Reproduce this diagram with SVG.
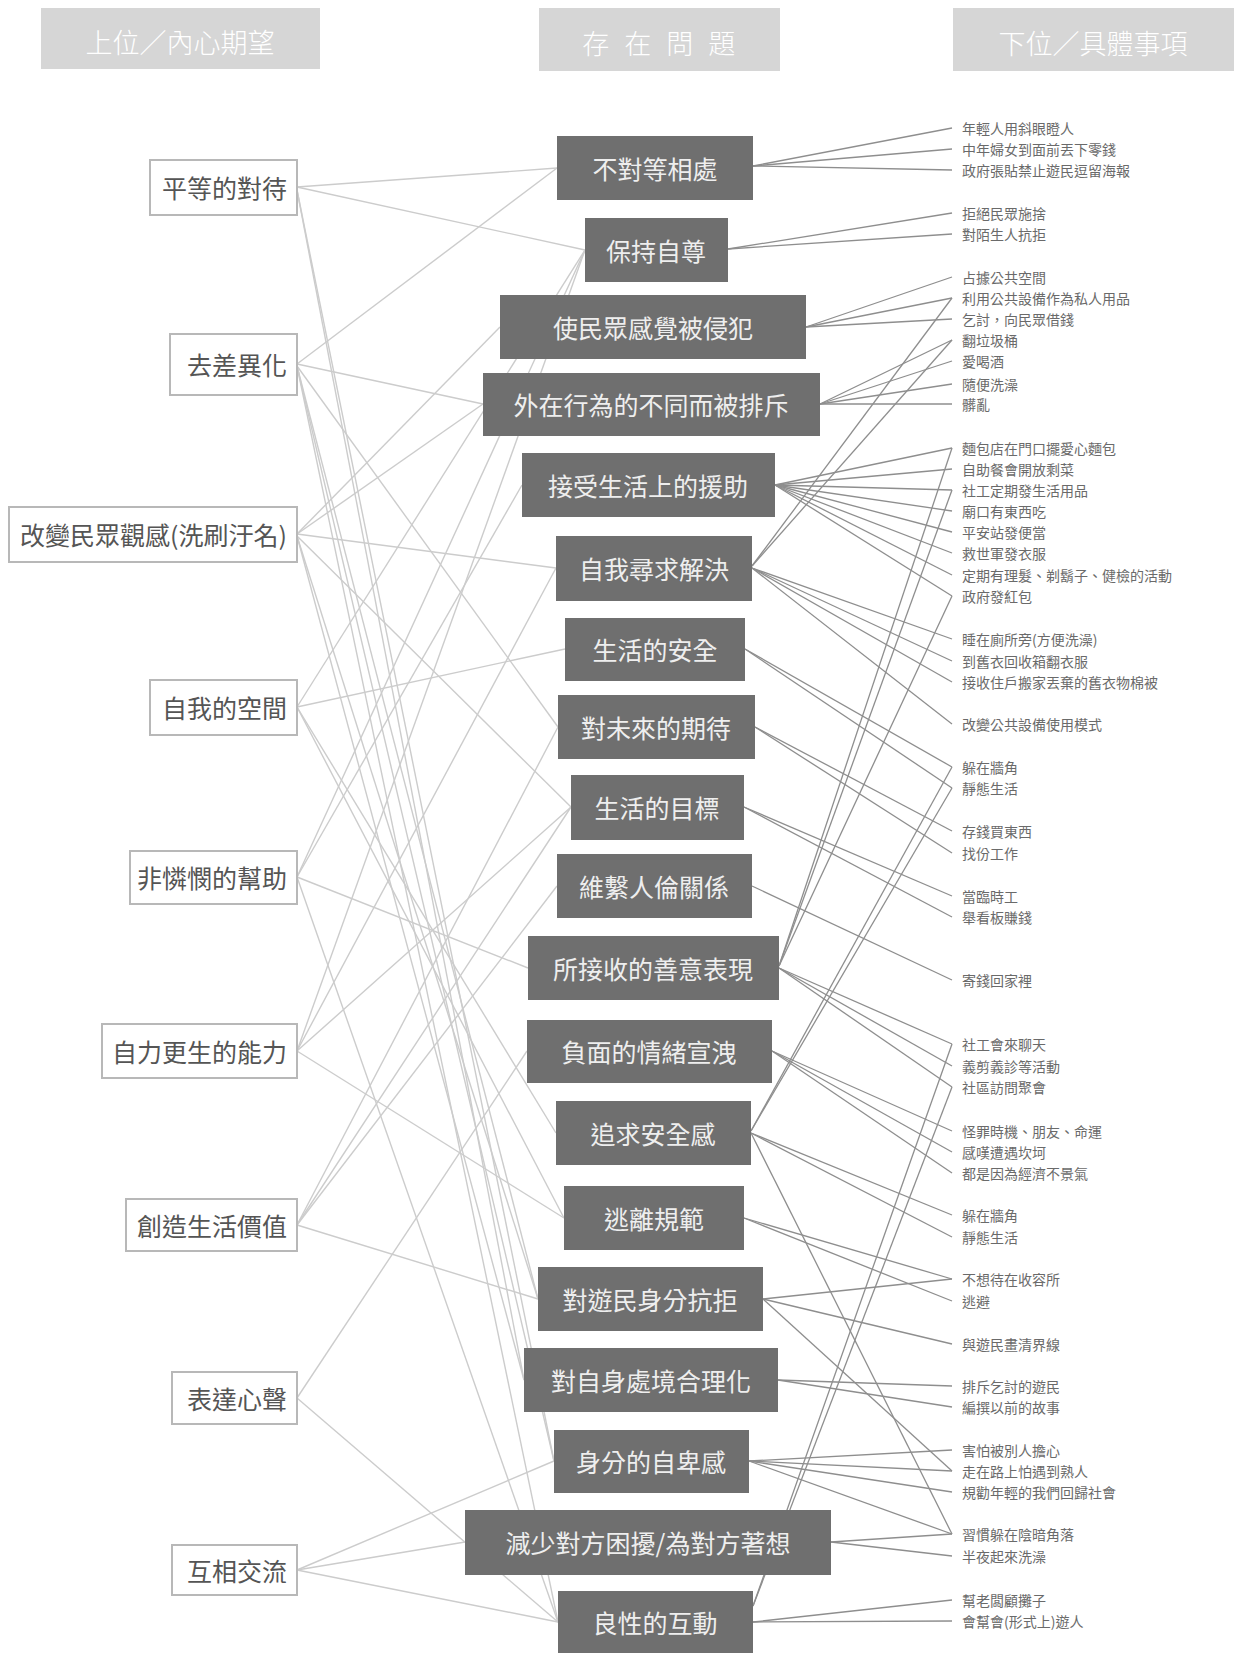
<svg xmlns="http://www.w3.org/2000/svg" width="1234" height="1653" viewBox="0 0 1234 1653">
<style>
text{font-family:"Noto Sans CJK TC","Noto Sans CJK SC",sans-serif;dominant-baseline:central}
.hd rect{fill:#d6d6d6}
.hd text{fill:#ffffff;font-size:27px;font-weight:300;text-anchor:middle}
.up rect{fill:#ffffff;stroke:#b8b8b8;stroke-width:2}
.up text{fill:#555555;font-size:25px;text-anchor:end}
.mid rect{fill:#6f6f6f}
.mid text{fill:#eeeeee;font-size:25px;text-anchor:middle}
.low text{fill:#6a6a6a;font-size:14px}
.cl line{stroke:#cccccc;stroke-width:1.4}
.cr line{stroke:#8e8e8e;stroke-width:1.3}
</style>
<rect width="1234" height="1653" fill="#ffffff"/>
<g id="headers" class="hd">
<g id="h1"><rect x="41" y="8" width="279" height="61"/><text x="180" y="41">上位／內心期望</text></g>
<g id="h2"><rect x="539" y="8" width="241" height="63"/><text x="661" y="42" letter-spacing="4.5">存 在 問 題</text></g>
<g id="h3"><rect x="953" y="8" width="281" height="63"/><text x="1093" y="42">下位／具體事項</text></g>
</g>
<g id="connectors">
<g class="cl">
<line x1="297" y1="187" x2="557" y2="168"/>
<line x1="297" y1="187" x2="585" y2="250"/>
<line x1="297" y1="190" x2="524" y2="1380"/>
<line x1="297" y1="190" x2="554" y2="1461"/>
<line x1="297" y1="364" x2="557" y2="168"/>
<line x1="297" y1="364" x2="483" y2="404"/>
<line x1="297" y1="366" x2="558" y2="727"/>
<line x1="297" y1="366" x2="538" y2="1299"/>
<line x1="297" y1="366" x2="554" y2="1461"/>
<line x1="297" y1="366" x2="558" y2="1622"/>
<line x1="297" y1="534" x2="500" y2="327"/>
<line x1="297" y1="534" x2="483" y2="404"/>
<line x1="297" y1="534" x2="556" y2="568"/>
<line x1="297" y1="536" x2="571" y2="807"/>
<line x1="297" y1="536" x2="538" y2="1299"/>
<line x1="297" y1="536" x2="524" y2="1380"/>
<line x1="297" y1="707" x2="585" y2="250"/>
<line x1="297" y1="707" x2="565" y2="649"/>
<line x1="297" y1="707" x2="564" y2="1218"/>
<line x1="297" y1="707" x2="556" y2="1133"/>
<line x1="297" y1="877" x2="585" y2="250"/>
<line x1="297" y1="877" x2="522" y2="485"/>
<line x1="297" y1="877" x2="528" y2="968"/>
<line x1="297" y1="877" x2="558" y2="1622"/>
<line x1="297" y1="1051" x2="585" y2="250"/>
<line x1="297" y1="1051" x2="556" y2="568"/>
<line x1="297" y1="1051" x2="571" y2="807"/>
<line x1="297" y1="1051" x2="564" y2="1218"/>
<line x1="297" y1="1225" x2="558" y2="727"/>
<line x1="297" y1="1225" x2="571" y2="807"/>
<line x1="297" y1="1225" x2="557" y2="886"/>
<line x1="297" y1="1225" x2="538" y2="1299"/>
<line x1="297" y1="1398" x2="527" y2="1051"/>
<line x1="297" y1="1398" x2="558" y2="1622"/>
<line x1="297" y1="1570" x2="554" y2="1461"/>
<line x1="297" y1="1570" x2="465" y2="1542"/>
<line x1="297" y1="1570" x2="558" y2="1622"/>
</g>
<g class="cr">
<line x1="753" y1="166" x2="952" y2="128"/>
<line x1="753" y1="166" x2="952" y2="149"/>
<line x1="753" y1="166" x2="952" y2="170"/>
<line x1="728" y1="249" x2="952" y2="213"/>
<line x1="728" y1="249" x2="952" y2="234"/>
<line x1="806" y1="327" x2="952" y2="277"/>
<line x1="806" y1="327" x2="952" y2="298"/>
<line x1="806" y1="327" x2="952" y2="319"/>
<line x1="820" y1="404" x2="952" y2="340"/>
<line x1="820" y1="404" x2="952" y2="361"/>
<line x1="820" y1="404" x2="952" y2="384"/>
<line x1="820" y1="404" x2="952" y2="404"/>
<line x1="775" y1="485" x2="952" y2="448"/>
<line x1="775" y1="485" x2="952" y2="469"/>
<line x1="775" y1="485" x2="952" y2="490"/>
<line x1="775" y1="485" x2="952" y2="511"/>
<line x1="775" y1="485" x2="952" y2="532"/>
<line x1="775" y1="485" x2="952" y2="553"/>
<line x1="775" y1="485" x2="952" y2="575"/>
<line x1="775" y1="485" x2="952" y2="596"/>
<line x1="752" y1="566" x2="952" y2="298"/>
<line x1="752" y1="566" x2="952" y2="340"/>
<line x1="752" y1="568" x2="952" y2="639"/>
<line x1="752" y1="568" x2="952" y2="661"/>
<line x1="752" y1="568" x2="952" y2="682"/>
<line x1="752" y1="568" x2="952" y2="724"/>
<line x1="745" y1="649" x2="952" y2="767"/>
<line x1="745" y1="649" x2="952" y2="788"/>
<line x1="755" y1="727" x2="952" y2="831"/>
<line x1="755" y1="727" x2="952" y2="853"/>
<line x1="744" y1="807" x2="952" y2="896"/>
<line x1="744" y1="807" x2="952" y2="917"/>
<line x1="752" y1="886" x2="952" y2="980"/>
<line x1="779" y1="966" x2="952" y2="448"/>
<line x1="779" y1="966" x2="952" y2="490"/>
<line x1="779" y1="966" x2="952" y2="596"/>
<line x1="779" y1="968" x2="952" y2="1044"/>
<line x1="779" y1="968" x2="952" y2="1066"/>
<line x1="779" y1="968" x2="952" y2="1087"/>
<line x1="772" y1="1051" x2="952" y2="1131"/>
<line x1="772" y1="1051" x2="952" y2="1152"/>
<line x1="772" y1="1051" x2="952" y2="1173"/>
<line x1="751" y1="1131" x2="952" y2="767"/>
<line x1="751" y1="1131" x2="952" y2="788"/>
<line x1="751" y1="1133" x2="952" y2="1215"/>
<line x1="751" y1="1133" x2="952" y2="1237"/>
<line x1="751" y1="1133" x2="952" y2="1534"/>
<line x1="744" y1="1218" x2="952" y2="1279"/>
<line x1="744" y1="1218" x2="952" y2="1301"/>
<line x1="763" y1="1299" x2="952" y2="1279"/>
<line x1="763" y1="1299" x2="952" y2="1344"/>
<line x1="763" y1="1299" x2="952" y2="1471"/>
<line x1="778" y1="1380" x2="952" y2="1386"/>
<line x1="778" y1="1380" x2="952" y2="1407"/>
<line x1="749" y1="1461" x2="952" y2="1450"/>
<line x1="749" y1="1461" x2="952" y2="1471"/>
<line x1="749" y1="1461" x2="952" y2="1492"/>
<line x1="749" y1="1461" x2="952" y2="1534"/>
<line x1="831" y1="1542" x2="952" y2="1534"/>
<line x1="831" y1="1542" x2="952" y2="1556"/>
<line x1="753" y1="1606" x2="952" y2="1044"/>
<line x1="753" y1="1606" x2="952" y2="1087"/>
<line x1="753" y1="1622" x2="952" y2="1600"/>
<line x1="753" y1="1622" x2="952" y2="1621"/>
</g>
</g>
<g id="upper" class="up">
<g id="u1"><rect x="150" y="160" width="147" height="55"/><text x="287" y="187">平等的對待</text></g>
<g id="u2"><rect x="170" y="334" width="127" height="61"/><text x="287" y="364">去差異化</text></g>
<g id="u3"><rect x="9" y="507" width="288" height="55"/><text x="287" y="534">改變民眾觀感(洗刷汙名)</text></g>
<g id="u4"><rect x="150" y="680" width="147" height="55"/><text x="287" y="707">自我的空間</text></g>
<g id="u5"><rect x="130" y="851" width="167" height="53"/><text x="287" y="877">非憐憫的幫助</text></g>
<g id="u6"><rect x="102" y="1024" width="195" height="54"/><text x="287" y="1051">自力更生的能力</text></g>
<g id="u7"><rect x="126" y="1199" width="171" height="52"/><text x="287" y="1225">創造生活價值</text></g>
<g id="u8"><rect x="172" y="1372" width="125" height="52"/><text x="287" y="1398">表達心聲</text></g>
<g id="u9"><rect x="172" y="1545" width="125" height="50"/><text x="287" y="1570">互相交流</text></g>
</g>
<g id="middle" class="mid">
<g id="m1"><rect x="557" y="136" width="196" height="64"/><text x="655" y="168">不對等相處</text></g>
<g id="m2"><rect x="585" y="218" width="143" height="64"/><text x="656" y="250">保持自尊</text></g>
<g id="m3"><rect x="500" y="295" width="306" height="64"/><text x="653" y="327">使民眾感覺被侵犯</text></g>
<g id="m4"><rect x="483" y="373" width="337" height="63"/><text x="651" y="404">外在行為的不同而被排斥</text></g>
<g id="m5"><rect x="522" y="453" width="253" height="64"/><text x="648" y="485">接受生活上的援助</text></g>
<g id="m6"><rect x="556" y="536" width="196" height="65"/><text x="654" y="568">自我尋求解決</text></g>
<g id="m7"><rect x="565" y="618" width="180" height="63"/><text x="655" y="649">生活的安全</text></g>
<g id="m8"><rect x="558" y="695" width="197" height="64"/><text x="656" y="727">對未來的期待</text></g>
<g id="m9"><rect x="571" y="775" width="173" height="65"/><text x="657" y="807">生活的目標</text></g>
<g id="m10"><rect x="557" y="854" width="195" height="64"/><text x="654" y="886">維繫人倫關係</text></g>
<g id="m11"><rect x="528" y="936" width="251" height="64"/><text x="653" y="968">所接收的善意表現</text></g>
<g id="m12"><rect x="527" y="1020" width="245" height="63"/><text x="649" y="1051">負面的情緒宣洩</text></g>
<g id="m13"><rect x="556" y="1101" width="195" height="64"/><text x="653" y="1133">追求安全感</text></g>
<g id="m14"><rect x="564" y="1186" width="180" height="64"/><text x="654" y="1218">逃離規範</text></g>
<g id="m15"><rect x="538" y="1267" width="225" height="64"/><text x="650" y="1299">對遊民身分抗拒</text></g>
<g id="m16"><rect x="524" y="1348" width="254" height="64"/><text x="651" y="1380">對自身處境合理化</text></g>
<g id="m17"><rect x="554" y="1430" width="195" height="63"/><text x="651" y="1461">身分的自卑感</text></g>
<g id="m18"><rect x="465" y="1510" width="366" height="65"/><text x="648" y="1542">減少對方困擾/為對方著想</text></g>
<g id="m19"><rect x="558" y="1591" width="195" height="62"/><text x="655" y="1622">良性的互動</text></g>
</g>
<g id="lower" class="low">
<text x="962" y="128">年輕人用斜眼瞪人</text>
<text x="962" y="149">中年婦女到面前丟下零錢</text>
<text x="962" y="170">政府張貼禁止遊民逗留海報</text>
<text x="962" y="213">拒絕民眾施捨</text>
<text x="962" y="234">對陌生人抗拒</text>
<text x="962" y="277">占據公共空間</text>
<text x="962" y="298">利用公共設備作為私人用品</text>
<text x="962" y="319">乞討，向民眾借錢</text>
<text x="962" y="340">翻垃圾桶</text>
<text x="962" y="361">愛喝酒</text>
<text x="962" y="384">隨便洗澡</text>
<text x="962" y="404">髒亂</text>
<text x="962" y="448">麵包店在門口擺愛心麵包</text>
<text x="962" y="469">自助餐會開放剩菜</text>
<text x="962" y="490">社工定期發生活用品</text>
<text x="962" y="511">廟口有東西吃</text>
<text x="962" y="532">平安站發便當</text>
<text x="962" y="553">救世軍發衣服</text>
<text x="962" y="575">定期有理髮、剃鬍子、健檢的活動</text>
<text x="962" y="596">政府發紅包</text>
<text x="962" y="639">睡在廁所旁(方便洗澡)</text>
<text x="962" y="661">到舊衣回收箱翻衣服</text>
<text x="962" y="682">接收住戶搬家丟棄的舊衣物棉被</text>
<text x="962" y="724">改變公共設備使用模式</text>
<text x="962" y="767">躲在牆角</text>
<text x="962" y="788">靜態生活</text>
<text x="962" y="831">存錢買東西</text>
<text x="962" y="853">找份工作</text>
<text x="962" y="896">當臨時工</text>
<text x="962" y="917">舉看板賺錢</text>
<text x="962" y="980">寄錢回家裡</text>
<text x="962" y="1044">社工會來聊天</text>
<text x="962" y="1066">義剪義診等活動</text>
<text x="962" y="1087">社區訪問聚會</text>
<text x="962" y="1131">怪罪時機、朋友、命運</text>
<text x="962" y="1152">感嘆遭遇坎坷</text>
<text x="962" y="1173">都是因為經濟不景氣</text>
<text x="962" y="1215">躲在牆角</text>
<text x="962" y="1237">靜態生活</text>
<text x="962" y="1279">不想待在收容所</text>
<text x="962" y="1301">逃避</text>
<text x="962" y="1344">與遊民畫清界線</text>
<text x="962" y="1386">排斥乞討的遊民</text>
<text x="962" y="1407">編撰以前的故事</text>
<text x="962" y="1450">害怕被別人擔心</text>
<text x="962" y="1471">走在路上怕遇到熟人</text>
<text x="962" y="1492">規勸年輕的我們回歸社會</text>
<text x="962" y="1534">習慣躲在陰暗角落</text>
<text x="962" y="1556">半夜起來洗澡</text>
<text x="962" y="1600">幫老闆顧攤子</text>
<text x="962" y="1621">會幫會(形式上)遊人</text>
</g>
</svg>
